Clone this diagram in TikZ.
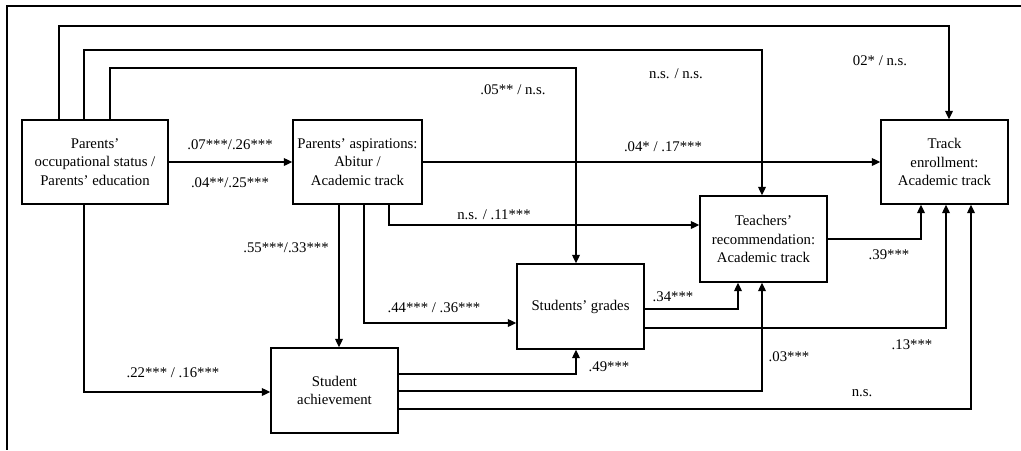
\documentclass[tikz,border=0pt]{standalone}
\usepackage{fontspec}
\setmainfont{Liberation Serif}
\usetikzlibrary{arrows.meta}

\begin{document}
\begin{tikzpicture}[x=0.025cm,y=-0.025cm,
  font=\fontsize{10.5}{13}\selectfont,
  box/.style={draw,line width=1pt,align=center,inner sep=2pt},
  arr/.style={line width=0.9pt,-{Triangle[length=6pt,width=5.5pt]}},
  lab/.style={inner sep=1pt}]
\useasboundingbox (0,0) rectangle (1021,450);
\draw[line width=1.4pt] (1021,6) -- (7,6) -- (7,450);
\node[box,minimum width=3.65cm,minimum height=2.1cm] (par) at (95,162) {Parents'\\occupational status /\\Parents' education};
\node[box,minimum width=3.225cm,minimum height=2.1cm] (asp) at (357.5,162) {Parents' aspirations:\\Abitur /\\Academic track};
\node[box,minimum width=3.175cm,minimum height=2.1cm] (trk) at (944.5,162) {Track\\enrollment:\\Academic track};
\node[box,minimum width=3.175cm,minimum height=2.15cm] (tch) at (763.5,239) {Teachers'\\recommendation:\\Academic track};
\node[box,minimum width=3.175cm,minimum height=2.125cm] (grd) at (580.5,306.5) {Students' grades};
\node[box,minimum width=3.175cm,minimum height=2.125cm] (ach) at (334.5,390.5) {Student\\achievement};
\draw[arr] (par.north -| 59,0) |- (949,26) -- (trk.north -| 949,0);
\draw[arr] (par.north -| 84,0) |- (762,50) -- (tch.north -| 762,0);
\draw[arr] (par.north -| 110,0) |- (576,68) -- (grd.north -| 576,0);
\draw[arr] (par) -- (asp);
\draw[arr] (asp) -- (trk);
\draw[arr] (asp.south -| 339,0) -- (ach.north -| 339,0);
\draw[arr] (asp.south -| 364,0) |- (grd.west |- 0,323);
\draw[arr] (asp.south -| 389,0) |- (tch.west |- 0,225);
\draw[arr] (par.south -| 84,0) |- (ach.west |- 0,392);
\draw[arr] (ach.east |- 0,374) -| (grd.south -| 576,0);
\draw[arr] (ach.east |- 0,391) -| (tch.south -| 762,0);
\draw[arr] (ach.east |- 0,409) -| (trk.south -| 971,0);
\draw[arr] (grd.east |- 0,309) -| (tch.south -| 738,0);
\draw[arr] (grd.east |- 0,328) -| (trk.south -| 946,0);
\draw[arr] (tch.east |- 0,239) -| (trk.south -| 921,0);
\node[lab] (l-par-trk) at (880,61) {02* / n.s.};
\node[lab] (l-par-tch) at (676,74) {n.s. / n.s.};
\node[lab] (l-par-grd) at (513,90) {.05** / n.s.};
\node[lab] (l-par-asp-a) at (230,145) {.07***/.26***};
\node[lab] (l-par-asp-b) at (230,183) {.04**/.25***};
\node[lab] (l-asp-trk) at (663,147) {.04* / .17***};
\node[lab] (l-asp-tch) at (494,215) {n.s. / .11***};
\node[lab] (l-asp-ach) at (286,248) {.55***/.33***};
\node[lab] (l-asp-grd) at (434,308) {.44*** / .36***};
\node[lab] (l-par-ach) at (173,373) {.22*** / .16***};
\node[lab] (l-ach-grd) at (609,367) {.49***};
\node[lab] (l-ach-tch) at (789,357) {.03***};
\node[lab] (l-ach-trk) at (862,393) {n.s.};
\node[lab] (l-grd-tch) at (673,297) {.34***};
\node[lab] (l-grd-trk) at (912,345) {.13***};
\node[lab] (l-tch-trk) at (889,255) {.39***};
\end{tikzpicture}
\end{document}
